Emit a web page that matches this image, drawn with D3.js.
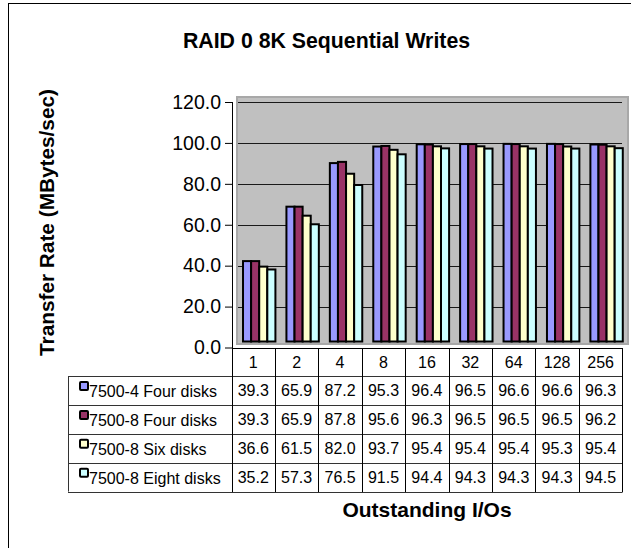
<!DOCTYPE html>
<html><head><meta charset="utf-8">
<script src="https://cdn.jsdelivr.net/npm/d3@7"></script>
<style>html,body{margin:0;padding:0;background:#fff;}svg{display:block;font-family:"Liberation Sans",Arial,sans-serif;}</style>
</head><body>
<svg id="chart" width="631" height="548"></svg>
<script>
const title = "RAID 0 8K Sequential Writes";
const yTitle = "Transfer Rate (MBytes/sec)";
const xTitle = "Outstanding I/Os";
const categories = ["1","2","4","8","16","32","64","128","256"];
const seriesNames = ["7500-4 Four disks","7500-8 Four disks","7500-8 Six disks","7500-8 Eight disks"];
const seriesColors = ["#9999FF","#993366","#FFFFCC","#CCFFFF"];
const s1 = [39.3,65.9,87.2,95.3,96.4,96.5,96.6,96.6,96.3];
const s2 = [39.3,65.9,87.8,95.6,96.3,96.5,96.5,96.5,96.2];
const s3 = [36.6,61.5,82.0,93.7,95.4,95.4,95.4,95.3,95.4];
const s4 = [35.2,57.3,76.5,91.5,94.4,94.3,94.3,94.3,94.5];
const seriesValues = [s1,s2,s3,s4];
const yTicks = [0,20,40,60,80,100,120];

const svg = d3.select("#chart");
// outer border
svg.append("rect").attr("x",8.5).attr("y",3.5).attr("width",700).attr("height",700)
  .attr("fill","#fff").attr("stroke","#000").attr("stroke-width",1);

const y = d3.scaleLinear().domain([0,120]).range([347.5,102]);
const x = d3.scaleBand().domain(categories).range([231.5,622.3]).padding(0);
const xs = d3.scaleBand().domain(d3.range(seriesNames.length)).range([0,32.4]).padding(0);
const depth = {dx:6, dy:-6};

// plot area frame
svg.append("rect").attr("x",237).attr("y",97).attr("width",391).attr("height",247)
  .attr("fill","#c0c0c0").attr("stroke","#a8a8a8").attr("stroke-width",2);

// gridlines
svg.append("g").selectAll("line").data(yTicks.filter(t=>t>0)).join("line")
  .attr("x1",238).attr("x2",622)
  .attr("y1",d=>Math.round(y(d))+0.5).attr("y2",d=>Math.round(y(d))+0.5)
  .attr("stroke","#1a1a1a").attr("stroke-width",1);

// bars
const bars = svg.append("g").attr("transform",`translate(${depth.dx},${depth.dy})`);
categories.forEach((c,i)=>{
  const g = bars.append("g").attr("transform",`translate(${x(c)+x.bandwidth()/2-16.2},0)`);
  g.selectAll("rect").data(seriesValues.map((s,k)=>({k,v:s[i]}))).join("rect")
    .attr("x",d=>xs(d.k)).attr("width",xs.bandwidth())
    .attr("y",d=>y(d.v)).attr("height",d=>y(0)-y(d.v))
    .attr("fill",d=>seriesColors[d.k]).attr("stroke","#000").attr("stroke-width",2);
});

// y axis
const yAxis = d3.axisLeft(y).tickValues(yTicks).tickFormat(d3.format(".1f")).tickSize(7).tickPadding(4);
const ya = svg.append("g").attr("transform","translate(232,0)").call(yAxis);
ya.select(".domain").attr("stroke","#000").attr("d","M0.5,102V348");
ya.selectAll(".tick line").attr("stroke","#000").attr("x1",0.5);
ya.selectAll(".tick text").attr("font-size","19.5px").attr("fill","#000")
  .attr("font-family","'Liberation Sans',Arial,sans-serif");

// data table
const tableTop = 348, headH = 28, rowH = 28.9;
const tb = svg.append("g");
// header cells
tb.selectAll("text.h").data(categories).join("text").attr("class","h")
  .attr("x",d=>x(d)+x.bandwidth()/2).attr("y",tableTop+headH/2+6)
  .attr("text-anchor","middle").attr("font-size","16px").text(d=>d);
// rows
seriesNames.forEach((name,k)=>{
  const top = tableTop+headH+k*rowH;
  tb.append("rect").attr("x",80).attr("y",top+6).attr("width",8).attr("height",8).attr("rx",1)
    .attr("fill",seriesColors[k]).attr("stroke","#000").attr("stroke-width",2);
  tb.append("text").attr("x",89).attr("y",top+rowH/2+7).attr("font-size","16px").text(name);
  tb.selectAll(null).data(seriesValues[k]).join("text")
    .attr("x",(d,i)=>x(categories[i])+x.bandwidth()/2).attr("y",top+rowH/2+6)
    .attr("text-anchor","middle").attr("font-size","16px").text(d=>d3.format(".1f")(d));
});
const tableBottom = tableTop+headH+seriesNames.length*rowH;
// horizontal lines
tb.append("line").attr("x1",232).attr("x2",622.5).attr("y1",tableTop+0.5).attr("y2",tableTop+0.5).attr("stroke","#000");
d3.range(seriesNames.length+1).forEach(k=>{
  const yy = Math.round(tableTop+headH+k*rowH)+0.5;
  tb.append("line").attr("x1",68).attr("x2",622.5).attr("y1",yy).attr("y2",yy).attr("stroke","#333");
});
// vertical lines
tb.append("line").attr("x1",68.5).attr("x2",68.5).attr("y1",tableTop+headH).attr("y2",tableBottom).attr("stroke","#333");
categories.forEach((c,i)=>{
  const xx = Math.round(x(c))+0.5;
  tb.append("line").attr("x1",xx).attr("x2",xx).attr("y1",tableTop).attr("y2",tableBottom+0.5).attr("stroke","#000");
});
tb.append("line").attr("x1",622.5).attr("x2",622.5).attr("y1",tableTop).attr("y2",tableBottom+0.5).attr("stroke","#000");

// titles
svg.append("text").attr("x",326.5).attr("y",47.5).attr("text-anchor","middle")
  .attr("font-size","21.3px").attr("font-weight","bold").text(title);
svg.append("text").attr("transform","translate(54,222.5) rotate(-90)").attr("text-anchor","middle")
  .attr("font-size","20.8px").attr("font-weight","bold").text(yTitle);
svg.append("text").attr("x",427).attr("y",516.7).attr("text-anchor","middle")
  .attr("font-size","21px").attr("font-weight","bold").text(xTitle);
</script>
</body></html>
